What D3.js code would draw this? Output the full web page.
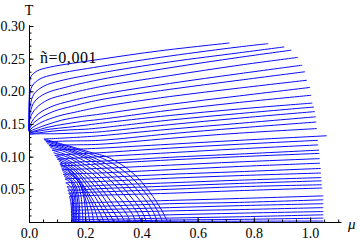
<!DOCTYPE html>
<html>
<head>
<meta charset="utf-8">
<script src="https://cdn.jsdelivr.net/npm/d3@7/dist/d3.min.js"></script>
<style>
  body { margin: 0; background: #fff; }
  svg { display: block; }
  text { font-family: "Liberation Serif", "Times New Roman", Times, "DejaVu Serif", serif; fill: #000; }
</style>
</head>
<body>
<svg id="chart" width="360" height="242"></svg>
<script>
// curves are lists of [mu, T]

// isentropes that leave the T axis near T = 0.14
const upperCurves = [
  [[0,0.140],[0.002,0.205],[0.006,0.222],[0.028,0.231],[0.074,0.237],[0.252,0.249],[0.465,0.262],[0.713,0.274]],
  [[0,0.140],[0.002,0.190],[0.011,0.208],[0.039,0.219],[0.092,0.226],[0.252,0.238],[0.5,0.254],[0.748,0.268],[0.851,0.273]],
  [[0,0.140],[0.004,0.177],[0.018,0.196],[0.053,0.208],[0.110,0.216],[0.252,0.228],[0.5,0.245],[0.748,0.259],[0.908,0.268]],
  [[0,0.140],[0.004,0.167],[0.021,0.185],[0.060,0.197],[0.128,0.206],[0.252,0.218],[0.5,0.236],[0.748,0.252],[0.933,0.263]],
  [[0,0.140],[0.004,0.159],[0.025,0.174],[0.067,0.187],[0.138,0.196],[0.252,0.207],[0.5,0.224],[0.748,0.240],[0.957,0.252]],
  [[0,0.140],[0.007,0.151],[0.032,0.165],[0.082,0.177],[0.145,0.185],[0.252,0.195],[0.5,0.212],[0.748,0.227],[0.972,0.240]],
  [[0,0.139],[0.007,0.147],[0.039,0.159],[0.092,0.170],[0.152,0.177],[0.252,0.187],[0.5,0.203],[0.748,0.217],[0.982,0.230]],
  [[0,0.139],[0.011,0.144],[0.046,0.153],[0.103,0.162],[0.163,0.168],[0.252,0.176],[0.5,0.192],[0.748,0.205],[0.989,0.217]],
  [[0,0.138],[0.014,0.141],[0.057,0.148],[0.117,0.156],[0.181,0.161],[0.252,0.165],[0.5,0.180],[0.748,0.193],[1.0,0.206]],
  [[0,0.137],[0.018,0.139],[0.067,0.145],[0.128,0.150],[0.188,0.154],[0.252,0.157],[0.5,0.171],[0.748,0.183],[1.004,0.194]],
  [[0,0.136],[0.021,0.138],[0.074,0.142],[0.138,0.145],[0.199,0.148],[0.252,0.151],[0.5,0.163],[0.748,0.173],[1.008,0.182]],
  [[0,0.135],[0.025,0.136],[0.082,0.139],[0.145,0.141],[0.199,0.142],[0.252,0.144],[0.5,0.156],[0.748,0.166],[1.014,0.176]],
  [[0,0.134],[0.028,0.135],[0.092,0.135],[0.163,0.136],[0.216,0.137],[0.252,0.138],[0.5,0.149],[0.748,0.159],[1.017,0.169]]
];

// isentropes that start on the transition arc and run out to large mu
const lowerCurves = [
  [[0.053,0.127],[0.145,0.129],[0.252,0.132],[0.5,0.142],[0.748,0.151],[1.020,0.161]],
  [[0.060,0.123],[0.145,0.124],[0.252,0.125],[0.5,0.135],[0.748,0.144],[1.022,0.153]],
  [[0.071,0.117],[0.145,0.118],[0.252,0.119],[0.5,0.128],[0.748,0.136],[1.024,0.143]],
  [[0.082,0.110],[0.145,0.111],[0.252,0.113],[0.5,0.119],[0.748,0.125],[1.059,0.132]],
  [[0.092,0.102],[0.163,0.104],[0.252,0.106],[0.5,0.113],[0.748,0.119],[1.028,0.125]],
  [[0.101,0.096],[0.174,0.098],[0.252,0.100],[0.5,0.106],[0.748,0.112],[1.029,0.118]],
  [[0.110,0.089],[0.181,0.092],[0.252,0.093],[0.5,0.099],[0.748,0.104],[1.032,0.110]],
  [[0.113,0.086],[0.181,0.087],[0.252,0.089],[0.5,0.095],[0.748,0.100],[1.033,0.105]],
  [[0.117,0.080],[0.181,0.081],[0.252,0.082],[0.5,0.087],[0.748,0.092],[1.034,0.097]],
  [[0.122,0.073],[0.181,0.074],[0.252,0.075],[0.5,0.080],[0.748,0.085],[1.035,0.090]],
  [[0.128,0.066],[0.181,0.067],[0.252,0.068],[0.5,0.073],[0.748,0.077],[1.038,0.082]],
  [[0.131,0.060],[0.181,0.061],[0.252,0.062],[0.5,0.067],[0.748,0.071],[1.039,0.075]],
  [[0.135,0.054],[0.181,0.054],[0.252,0.056],[0.5,0.060],[0.748,0.064],[1.040,0.068]],
  [[0.138,0.049],[0.181,0.049],[0.252,0.051],[0.5,0.055],[0.748,0.059],[1.041,0.063]],
  [[0.141,0.044],[0.181,0.045],[0.252,0.046],[0.5,0.050],[0.748,0.054],[1.041,0.057]],
  [[0.144,0.039],[0.181,0.040],[0.252,0.041],[0.5,0.044],[0.748,0.048],[1.043,0.052]],
  [[0.148,0.028],[0.181,0.029],[0.252,0.030],[0.5,0.033],[0.748,0.036],[1.047,0.040]],
  [[0.150,0.023],[0.252,0.024],[0.5,0.028],[0.748,0.030],[1.047,0.034]],
  [[0.152,0.018],[0.252,0.019],[0.5,0.022],[0.748,0.025],[1.047,0.028]],
  [[0.154,0.013],[0.252,0.014],[0.5,0.017],[0.748,0.019],[1.047,0.022]],
  [[0.155,0.008],[0.252,0.008],[0.5,0.011],[0.748,0.0135],[1.047,0.016]],
  [[0.156,0.004],[0.252,0.004],[0.5,0.006],[0.748,0.008],[1.047,0.011]],
  [[0.156,0.001],[0.252,0.001],[0.5,0.003],[0.748,0.004],[1.047,0.006]],
  [[0.156,0.001],[0.5,0.001],[1.047,0.0015]]
];

// branches folding back from the arc down to T = 0 (the dense wedge)
const foldBranches = [
  [[0.053,0.127],[0.145,0.116],[0.216,0.107],[0.287,0.098],[0.369,0.075],[0.429,0.046],[0.472,0.018],[0.493,0]],
  [[0.056,0.125],[0.141,0.115],[0.212,0.105],[0.279,0.094],[0.355,0.072],[0.415,0.044],[0.456,0.018],[0.475,0]],
  [[0.060,0.123],[0.138,0.113],[0.209,0.102],[0.270,0.090],[0.340,0.069],[0.401,0.041],[0.440,0.017],[0.457,0]],
  [[0.065,0.120],[0.138,0.111],[0.204,0.100],[0.261,0.087],[0.328,0.065],[0.385,0.038],[0.422,0.016],[0.438,0]],
  [[0.071,0.117],[0.138,0.109],[0.199,0.098],[0.252,0.084],[0.316,0.061],[0.369,0.035],[0.404,0.014],[0.418,0]],
  [[0.076,0.114],[0.138,0.106],[0.195,0.094],[0.246,0.080],[0.305,0.057],[0.355,0.032],[0.387,0.013],[0.399,0]],
  [[0.082,0.110],[0.138,0.102],[0.191,0.090],[0.241,0.075],[0.294,0.052],[0.340,0.028],[0.369,0.011],[0.379,0]],
  [[0.087,0.106],[0.138,0.099],[0.186,0.087],[0.234,0.071],[0.282,0.048],[0.323,0.026],[0.350,0.010],[0.360,0]],
  [[0.092,0.102],[0.138,0.095],[0.181,0.083],[0.227,0.066],[0.270,0.044],[0.305,0.023],[0.330,0.009],[0.340,0]],
  [[0.097,0.099],[0.138,0.092],[0.178,0.080],[0.218,0.063],[0.258,0.042],[0.289,0.022],[0.311,0.009],[0.321,0]],
  [[0.101,0.096],[0.138,0.089],[0.174,0.077],[0.209,0.060],[0.245,0.040],[0.273,0.021],[0.291,0.009],[0.301,0]],
  [[0.106,0.093],[0.138,0.086],[0.171,0.075],[0.202,0.058],[0.234,0.039],[0.259,0.021],[0.275,0.009],[0.284,0]],
  [[0.110,0.089],[0.138,0.083],[0.167,0.072],[0.195,0.055],[0.223,0.037],[0.245,0.020],[0.259,0.008],[0.266,0]],
  [[0.112,0.088],[0.138,0.082],[0.165,0.071],[0.192,0.055],[0.216,0.036],[0.234,0.019],[0.248,0]],
  [[0.113,0.086],[0.138,0.080],[0.163,0.069],[0.188,0.054],[0.209,0.035],[0.223,0.018],[0.230,0]],
  [[0.115,0.083],[0.141,0.077],[0.169,0.066],[0.190,0.050],[0.204,0.030],[0.216,0]],
  [[0.117,0.080],[0.145,0.073],[0.174,0.063],[0.191,0.046],[0.199,0.026],[0.202,0]],
  [[0.120,0.077],[0.145,0.070],[0.171,0.059],[0.184,0.042],[0.192,0]],
  [[0.122,0.073],[0.145,0.067],[0.167,0.055],[0.177,0.037],[0.181,0]],
  [[0.125,0.070],[0.147,0.064],[0.165,0.051],[0.173,0.032],[0.176,0]],
  [[0.128,0.066],[0.149,0.060],[0.163,0.046],[0.168,0.026],[0.170,0]],
  [[0.131,0.060],[0.149,0.054],[0.161,0.040],[0.165,0]],
  [[0.135,0.054],[0.152,0.046],[0.161,0]],
  [[0.138,0.049],[0.152,0.040],[0.158,0]],
  [[0.141,0.044],[0.152,0.037],[0.155,0]],
  [[0.144,0.039],[0.149,0.031],[0.152,0]]
];

const xTicks = [0, 0.2, 0.4, 0.6, 0.8, 1.0];
const xTickLabels = ['0.0', '0.2', '0.4', '0.6', '0.8', '1.0'];
const yTicks = [0.05, 0.10, 0.15, 0.20, 0.25, 0.30];
const yTickLabels = ['0.05', '0.10', '0.15', '0.20', '0.25', '0.30'];
const xMinorStep = 0.05;
const yMinorStep = 0.01;
const plotLabel = 'ñ=0,001';

const serif = '"Liberation Serif", "Times New Roman", Times, "DejaVu Serif", serif';
const svg = d3.select('#chart');

const x = d3.scaleLinear().domain([0, 1.11]).range([29, 341]);
const y = d3.scaleLinear().domain([0, 0.302]).range([222, 24.7]);

const line = d3.line()
  .x((d) => x(d[0]))
  .y((d) => y(d[1]))
  .curve(d3.curveCatmullRom.alpha(0.5));

// curves first, axes on top
const curves = svg.append('g')
  .attr('fill', 'none')
  .attr('stroke', '#0a0aff')
  .attr('stroke-width', 1)
  .attr('stroke-linejoin', 'round');

curves.selectAll('path.upper').data(upperCurves).join('path').attr('class', 'upper').attr('d', line);
curves.selectAll('path.lower').data(lowerCurves).join('path').attr('class', 'lower').attr('d', line);
curves.selectAll('path.fold').data(foldBranches).join('path').attr('class', 'fold').attr('d', line);

// minor ticks
svg.append('g')
  .attr('transform', `translate(0,${y(0)})`)
  .call(d3.axisBottom(x).tickValues(d3.range(0, 1.1001, xMinorStep)).tickSize(-2.5).tickFormat(''))
  .call((g) => g.select('.domain').remove());
svg.append('g')
  .attr('transform', `translate(${x(0)},0)`)
  .call(d3.axisLeft(y).tickValues(d3.range(0, 0.3001, yMinorStep)).tickSize(-2.5).tickFormat(''))
  .call((g) => g.select('.domain').remove());

// major ticks + labels
svg.append('g')
  .attr('transform', `translate(0,${y(0)})`)
  .call(d3.axisBottom(x).tickValues(xTicks).tickSize(-4.5).tickSizeOuter(0).tickPadding(6)
    .tickFormat((d, i) => xTickLabels[i]));
svg.append('g')
  .attr('transform', `translate(${x(0)},0)`)
  .call(d3.axisLeft(y).tickValues(yTicks).tickSize(-4.5).tickSizeOuter(0).tickPadding(4)
    .tickFormat((d, i) => yTickLabels[i]));

svg.selectAll('g').attr('font-family', serif);
svg.selectAll('.tick text').style('font-size', '14px').style('font-family', serif);
svg.selectAll('.domain, .tick line').attr('stroke', '#000').attr('stroke-width', 1);

// axis names
svg.append('text').attr('x', x(0)).attr('y', 15).attr('text-anchor', 'middle')
  .style('font-size', '14px').style('font-family', serif).text('T');
svg.append('text').attr('x', 348).attr('y', 229)
  .style('font-size', '15px').style('font-style', 'italic').style('font-family', serif).text('μ');

// curve family label
svg.append('text').attr('x', 40).attr('y', 63)
  .style('font-size', '16px').style('letter-spacing', '0.6px').style('font-family', serif).text(plotLabel);
</script>
</body>
</html>
